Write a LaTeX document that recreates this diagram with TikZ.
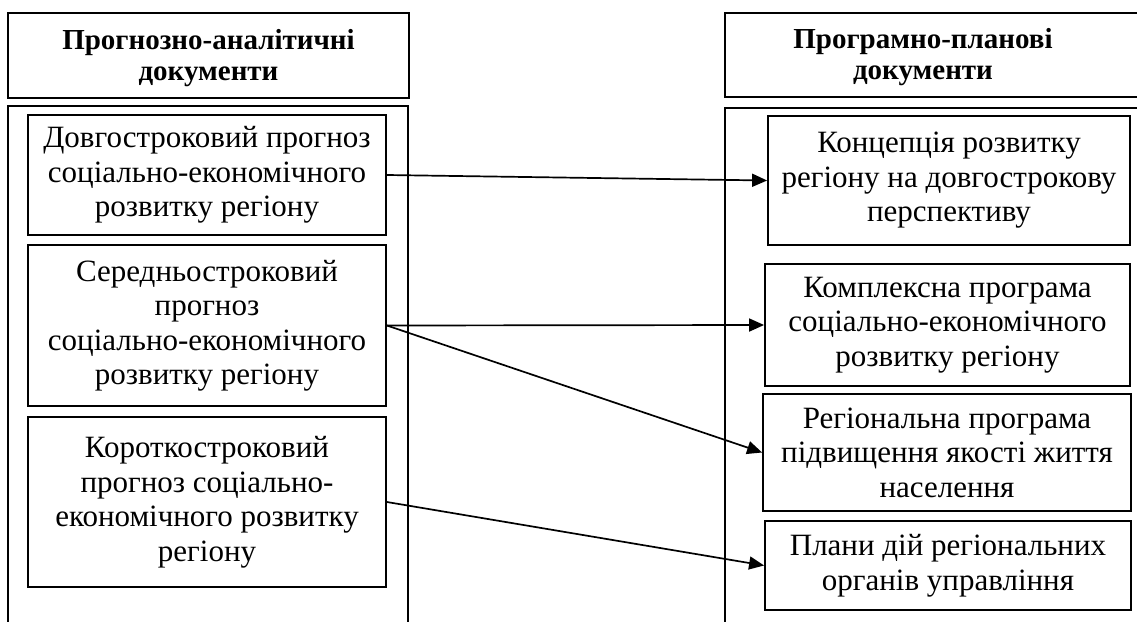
\documentclass[tikz,border=0pt]{standalone}
\usepackage{fontspec}
\setmainfont{Liberation Serif}
\usetikzlibrary{arrows.meta}
\tikzset{
  frame/.style={draw, line width=1.8pt},
  box/.style={draw, line width=1.8pt, align=center, inner sep=0pt,
    font=\fontsize{31}{34.5}\selectfont},
  head/.style={align=center, inner sep=0pt, font=\bfseries\fontsize{29}{31}\selectfont},
  link/.style={line width=1.7pt, -{Triangle[length=15pt,width=13pt]}}
}
\begin{document}
\begin{tikzpicture}[x=1pt,y=-1pt]
\useasboundingbox (0,0) rectangle (1137,621);
\begin{scope}
\clip (0,0) rectangle (1137,621);
% headers and outer frames
\draw[frame] (8,13) rectangle (409,98);
\draw[frame] (8,106) rectangle (408,640);
\draw[frame] (725,13) rectangle (1160,97);
\draw[frame] (725,108) rectangle (1160,640);
\end{scope}
\node[head] (hl) at (208.5,58) {Прогнозно-аналітичні\\документи};
\node[head] (hr) at (923,57) {Програмно-планові\\документи};
% left boxes
\node[box, minimum width=358, minimum height=120] (l1) at (207,175)
  {Довгостроковий прогноз\\соціально-економічного\\розвитку регіону};
\node[box, minimum width=358, minimum height=161] (l2) at (207,325.5)
  {Середньостроковий\\прогноз\\соціально-економічного\\розвитку регіону};
\node[box, minimum width=358, minimum height=170] (l3) at (207,502)
  {Короткостроковий\\прогноз соціально-\\економічного розвитку\\регіону};
% right boxes
\node[box, minimum width=362, minimum height=129] (r1) at (949,180.5)
  {Концепція розвитку\\регіону на довгострокову\\перспективу};
\node[box, minimum width=365, minimum height=122] (r2) at (947.5,325)
  {Комплексна програма\\соціально-економічного\\розвитку регіону};
\node[box, minimum width=368, minimum height=117] (r3) at (947,452.5)
  {Регіональна програма\\підвищення якості життя\\населення};
\node[box, minimum width=366, minimum height=89] (r4) at (948,565.5)
  {Плани дій регіональних\\органів управління};
% connectors
\draw[link] (l1.east) -- (r1.west);
\draw[link] (l2.east) -- (r2.west);
\draw[link] (l2.east) -- (r3.west);
\draw[link] (l3.east) -- (r4.west);
\end{tikzpicture}
\end{document}
